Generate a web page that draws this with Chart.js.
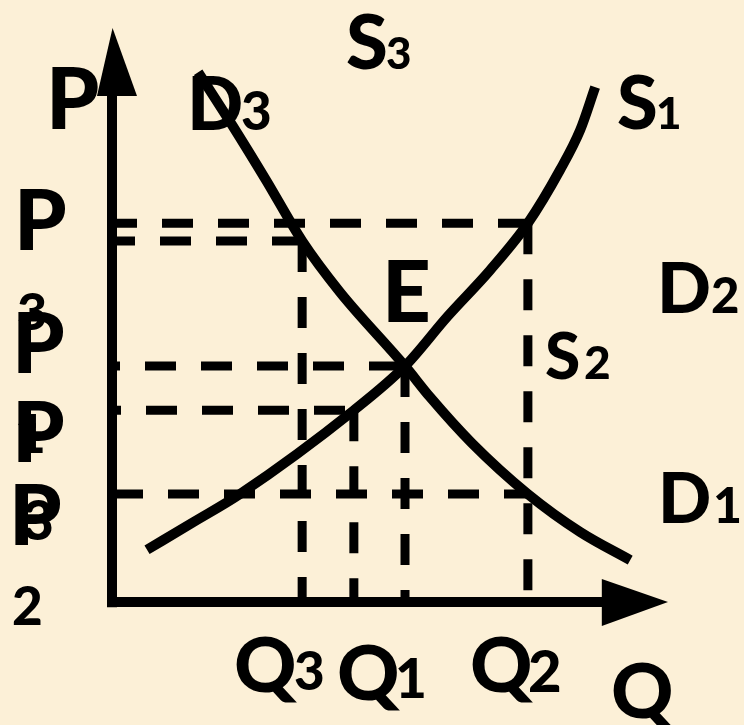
<!DOCTYPE html>
<html><head><meta charset="utf-8">
<script src="https://cdn.jsdelivr.net/npm/chart.js@4.4.1/dist/chart.umd.min.js"></script>
<style>html,body{margin:0;padding:0;background:#FCF0D7;overflow:hidden}canvas{display:block}</style>
</head><body>
<canvas id="c" width="744" height="725"></canvas>
<script>
// Equilibrium quantities (Q axis) and prices (P axis)
const Q3 = 3.42, Q1b = 4.35, Q1 = 5.27, Q2 = 7.48;
const P3 = 6.60, P3b = 6.29, P1 = 4.11, Pb = 3.34, P2 = 1.88;

// Supply curve S1
const supplyQ = [0.63, 1.46, 2.30, 4.35, 5.27, 6.03, 6.80, 7.48, 8.06, 8.42, 8.69];
const supplyP = [0.91, 1.39, 1.88, 3.34, 4.11, 4.97, 5.78, 6.60, 7.53, 8.22, 8.97];

// Demand curve D3
const demandQ = [1.55, 2.16, 2.77, 3.42, 4.10, 5.27, 5.72, 6.47, 7.48, 8.42, 9.32];
const demandP = [9.23, 8.31, 7.35, 6.29, 5.40, 4.11, 3.57, 2.77, 1.88, 1.22, 0.73];

// Axis extents
const axisMax = 10;

// Text labels: [text, q, p, fontSize]
const labelTexts = ['P','D','3','S','3','S','1','E','D','2','S','2','D','1',
  'Q','3','Q','1','Q','2','Q','P','3','P','1','P','3','P','2'];
const labelQ = [-1.079,1.439,2.338,4.227,4.946,9.101,9.820,4.964,9.892,10.791,7.806,8.507,9.910,10.845,
  2.230,3.291,4.083,5.144,6.475,7.518,9.011,-1.655,-1.691,-1.691,-1.691,-1.691,-1.601,-1.745,-1.781];
const labelP = [8.24,8.223,8.223,9.286,9.286,8.240,8.240,4.878,5.035,5.035,3.885,3.885,1.376,1.376,
  -1.568,-1.533,-1.707,-1.672,-1.568,-1.568,-2.021,6.132,4.739,3.990,2.596,2.439,1.080,0.993,-0.401];
const labelSize = [85,74,53,76,44,74,44,85,71,49,64,46,70,50,
  77,53,77,55,77,58,77,84,52,84,53,84,55,84,53];

const pts = (xs, ys) => xs.map((x, i) => ({x, y: ys[i]}));
const seg = (a, b) => [{x: a[0], y: a[1]}, {x: b[0], y: b[1]}];

const dashSegs = [
  [seg([0, P3], [Q2, P3]), 6],
  [seg([0, P3b], [Q3, P3b]), 8],
  [seg([0, P1], [Q1, P1]), 23],
  [seg([0, Pb], [Q1b, Pb]), 22],
  [seg([0, P2], [Q2, P2]), 0],
  [seg([Q3, P3b], [Q3, 0]), 0],
  [seg([Q1b, Pb], [Q1b, 0]), 0],
  [seg([Q1, P1], [Q1, 0]), 0],
  [seg([Q2, P3], [Q2, 0]), 0]
];

const datasets = [];
dashSegs.forEach(([d, off]) => datasets.push({data: d, borderColor: '#000', borderWidth: 9,
  borderDash: [31, 25], borderDashOffset: off, pointRadius: 0, clip: false}));
datasets.push({data: pts(supplyQ, supplyP), borderColor: '#000', borderWidth: 10,
  cubicInterpolationMode: 'monotone', pointRadius: 0, clip: false});
datasets.push({data: pts(demandQ, demandP), borderColor: '#000', borderWidth: 10,
  cubicInterpolationMode: 'monotone', pointRadius: 0, clip: false});
// axes
datasets.push({data: seg([0, -0.09], [0, 8.9]), borderColor: '#000', borderWidth: 10, pointRadius: 0, clip: false});
datasets.push({data: seg([-0.08, 0], [8.9, 0]), borderColor: '#000', borderWidth: 10, pointRadius: 0, clip: false});

const decor = {
  id: 'decor',
  beforeDraw(chart) {
    const c = chart.ctx;
    c.save(); c.fillStyle = '#FCF0D7'; c.fillRect(0, 0, chart.width, chart.height); c.restore();
  },
  afterDatasetsDraw(chart) {
    const c = chart.ctx, xs = chart.scales.x, ys = chart.scales.y;
    const X = v => xs.getPixelForValue(v), Y = v => ys.getPixelForValue(v);
    c.save();
    c.fillStyle = '#000';
    // Y arrow
    c.beginPath(); c.moveTo(X(0.01), Y(axisMax)); c.lineTo(X(0.45), Y(8.815)); c.lineTo(X(-0.27), Y(8.815)); c.closePath(); c.fill();
    // X arrow
    c.beginPath(); c.moveTo(X(axisMax), Y(0)); c.lineTo(X(8.81), Y(0.40)); c.lineTo(X(8.81), Y(-0.42)); c.closePath(); c.fill();
    c.textAlign = 'left'; c.textBaseline = 'alphabetic';
    labelTexts.forEach((t, i) => {
      c.font = '900 ' + labelSize[i] + 'px Lato';
      const m = c.measureText(t);
      c.fillText(t, X(labelQ[i]) + m.actualBoundingBoxLeft, Y(labelP[i]));
    });
    c.restore();
  }
};

function draw() {
  new Chart(document.getElementById('c'), {
    type: 'line',
    data: {datasets},
    options: {
      responsive: false, animation: false,
      layout: {padding: {left: 112, right: 76, top: 28, bottom: 123}},
      scales: {
        x: {type: 'linear', min: 0, max: axisMax, display: false},
        y: {type: 'linear', min: 0, max: axisMax, display: false}
      },
      plugins: {legend: {display: false}, tooltip: {enabled: false}}
    },
    plugins: [decor]
  });
}
(document.fonts && document.fonts.load ? document.fonts.load('900 80px Lato') : Promise.resolve()).then(draw, draw);
</script>
</body></html>
